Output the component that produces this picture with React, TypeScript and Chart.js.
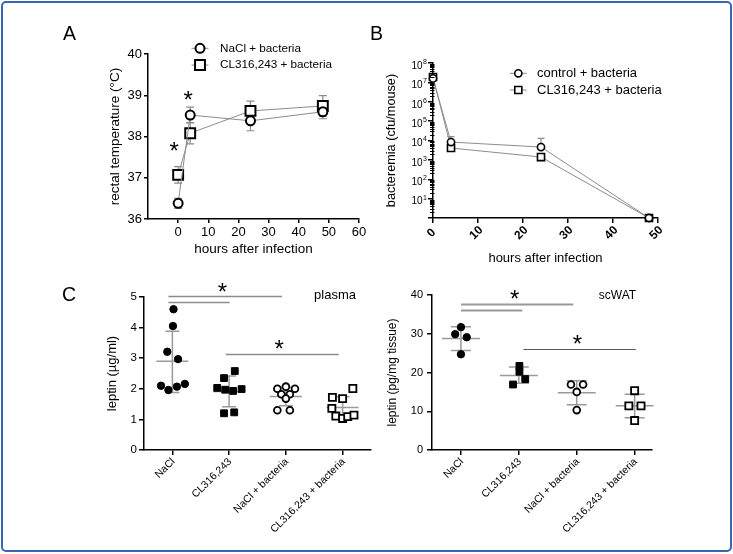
import React, { useEffect, useRef } from "react";
import { Chart, registerables } from "chart.js";

Chart.register(...registerables);

const FONT = "'Liberation Sans', Arial, Helvetica, sans-serif";
const LINE_GRAY = "#8c8c8c";
const BAR_GRAY = "#9a9a9a";

// ---------------- Panel A: rectal temperature ----------------
const hoursA = [0, 4, 24, 48];
const tempNaCl = [36.38, 38.52, 38.38, 38.6];
const tempNaClErr = [0.12, 0.19, 0.24, 0.17];
const tempCL = [37.07, 38.08, 38.62, 38.74];
const tempCLErr = [0.2, 0.26, 0.24, 0.25];
const xTicksA = [0, 10, 20, 30, 40, 50, 60];
const yTicksA = [36, 37, 38, 39, 40];
const starXA = [-1.3, 3.3];
const starYA = [37.79, 39.03];

// ---------------- Panel B: bacteremia ----------------
const hoursB = [0, 4, 24, 48];
const cfuControl = [1.6e7, 8.3e3, 4.6e3, 1];
const cfuControlUpper = [1.9e7, 1.6e4, 1.3e4, 1];
const cfuCL = [1.9e7, 4.1e3, 1.4e3, 1];
const cfuCLUpper = [2.1e7, 5.0e3, 1.7e3, 1];
const xTicksB = [0, 10, 20, 30, 40, 50];
const yTicksB = [1, 1e1, 1e2, 1e3, 1e4, 1e5, 1e6, 1e7, 1e8];

// ---------------- Panel C: leptin ----------------
const groupsC = ["NaCl", "CL316,243", "NaCl + bacteria", "CL316,243 + bacteria"];

const plasmaNaCl = [4.6, 4.05, 3.21, 2.97, 2.1, 1.96, 2.07, 2.16];
const plasmaNaClJit = [0.02, 0.01, -0.09, 0.1, -0.2, -0.07, 0.08, 0.22];
const plasmaCL = [2.58, 2.35, 2.03, 1.97, 1.93, 1.99, 1.2, 1.23];
const plasmaCLJit = [0.1, -0.09, -0.21, -0.07, 0.07, 0.22, -0.09, 0.09];
const plasmaNaClBac = [2.0, 2.07, 2.0, 1.82, 1.82, 1.68, 1.3, 1.3];
const plasmaNaClBacJit = [-0.15, 0, 0.16, -0.08, 0.07, 0, -0.15, 0.07];
const plasmaCLBac = [2.01, 1.72, 1.68, 1.36, 1.11, 1.03, 1.09, 1.14];
const plasmaCLBacJit = [0.18, -0.18, 0, -0.19, -0.12, 0, 0.09, 0.2];
const plasmaMean = [2.9, 1.91, 1.75, 1.39];
const plasmaSdLo = [1.88, 1.41, 1.45, 1.04];
const plasmaSdHi = [3.88, 2.42, 2.05, 1.74];
const plasmaSigX1 = [-0.07, -0.07, 0.94];
const plasmaSigX2 = [1.93, 1.01, 2.93];
const plasmaSigY = [5.02, 4.84, 3.13];
const plasmaStarX = [0.88, 1.88];
const plasmaStarY = [5.36, 3.49];
const yTicksPlasma = [0, 1, 2, 3, 4, 5];

const watNaCl = [29.9, 31.7, 29.1, 24.7];
const watNaClJit = [-0.1, 0, 0.1, 0];
const watCL = [21.7, 20.2, 16.9, 18.3];
const watCLJit = [0.01, 0.01, -0.1, 0.11];
const watNaClBac = [16.9, 16.9, 15.0, 10.3];
const watNaClBacJit = [-0.1, 0.11, 0, 0];
const watCLBac = [15.3, 11.4, 11.4, 7.6];
const watCLBacJit = [0, -0.1, 0.11, 0];
const watMean = [28.8, 19.2, 14.8, 11.4];
const watSdLo = [25.7, 17.2, 11.7, 8.3];
const watSdHi = [31.8, 21.4, 17.9, 14.4];
const watSigX1 = [0, 0, 1.08];
const watSigX2 = [1.94, 1.06, 3.02];
const watSigY = [37.7, 36.1, 26.0];
const watStarX = [0.93, 2.01];
const watStarY = [40.5, 28.8];
const yTicksWat = [0, 10, 20, 30, 40];
const xTicksC = [0, 1, 2, 3];

function axisOpts(o: any) {
  return {
    type: o.type || "linear",
    position: o.horizontal ? "bottom" : "left",
    min: o.min,
    max: o.max,
    afterBuildTicks: (s: any) => {
      s.ticks = o.ticks.map((v: number) => ({ value: v }));
    },
    afterFit: (s: any) => {
      if (o.horizontal) s.height = o.size;
      else s.width = o.size;
    },
    ticks: {
      display: o.showLabels !== false,
      autoSkip: false,
      maxRotation: 0,
      minRotation: 0,
      padding: o.pad,
      color: "#000",
      font: { family: FONT, size: o.fontSize },
      callback: o.labelCb || ((v: any) => String(v)),
    },
    grid: {
      display: true,
      drawOnChartArea: false,
      drawTicks: true,
      tickLength: o.tickLen,
      tickColor: "#000",
      tickWidth: 1.5,
      color: "#000",
      lineWidth: 1.5,
    },
    border: { display: true, color: "#000", width: 1.5 },
    title: o.title
      ? { display: true, text: o.title, color: "#000", padding: 0, font: { family: FONT, size: o.titleSize } }
      : { display: false },
  };
}

function drawMarker(ctx: CanvasRenderingContext2D, style: string, x: number, y: number, r: number, fill: string, lw: number) {
  ctx.beginPath();
  if (style === "circle") ctx.arc(x, y, r, 0, Math.PI * 2);
  else {
    const s = r * Math.SQRT1_2;
    ctx.rect(x - s, y - s, 2 * s, 2 * s);
  }
  ctx.fillStyle = fill;
  ctx.fill();
  ctx.lineWidth = lw;
  ctx.strokeStyle = "#000";
  ctx.stroke();
}

function drawLegend(chart: any, x: number, y0: number, dy: number, textX: number, fontSize: number) {
  const ctx = chart.ctx as CanvasRenderingContext2D;
  chart.data.datasets.forEach((ds: any, i: number) => {
    const y = y0 + i * dy;
    ctx.save();
    ctx.strokeStyle = LINE_GRAY;
    ctx.lineWidth = 1;
    ctx.beginPath();
    ctx.moveTo(x - 8.5, y);
    ctx.lineTo(x + 8.5, y);
    ctx.stroke();
    drawMarker(ctx, ds.pointStyle, x, y, ds.pointRadius, ds.pointBackgroundColor, ds.pointBorderWidth);
    ctx.fillStyle = "#000";
    ctx.font = `${fontSize}px ${FONT}`;
    ctx.textAlign = "left";
    ctx.textBaseline = "middle";
    ctx.fillText(ds.label, textX, y);
    ctx.restore();
  });
}

function drawStars(chart: any, xs: number[], ys: number[], size: number) {
  const ctx = chart.ctx as CanvasRenderingContext2D;
  const sx = chart.scales.x;
  const sy = chart.scales.y;
  ctx.save();
  ctx.fillStyle = "#000";
  ctx.font = `${size}px ${FONT}`;
  ctx.textAlign = "center";
  ctx.textBaseline = "alphabetic";
  xs.forEach((x, i) => {
    ctx.fillText("*", sx.getPixelForValue(x), sy.getPixelForValue(ys[i]) + size * 0.585);
  });
  ctx.restore();
}

function errBar(ctx: CanvasRenderingContext2D, x: number, yTop: number, yBot: number, cap: number, top = true, bot = true) {
  ctx.beginPath();
  ctx.moveTo(x, yTop);
  ctx.lineTo(x, yBot);
  if (top) {
    ctx.moveTo(x - cap, yTop);
    ctx.lineTo(x + cap, yTop);
  }
  if (bot) {
    ctx.moveTo(x - cap, yBot);
    ctx.lineTo(x + cap, yBot);
  }
  ctx.stroke();
}

const baseOptions = (padding: any, scales: any) => ({
  animation: false,
  responsive: false,
  events: [],
  layout: { padding },
  plugins: { legend: { display: false }, tooltip: { enabled: false } },
  scales,
});

function configA(): any {
  return {
    type: "scatter",
    data: {
      datasets: [
        {
          label: "NaCl + bacteria",
          data: hoursA.map((h, i) => ({ x: h, y: tempNaCl[i] })),
          showLine: true, borderColor: LINE_GRAY, borderWidth: 1,
          pointStyle: "circle", pointRadius: 4.5, pointBorderWidth: 2,
          pointBorderColor: "#000", pointBackgroundColor: "#fff",
          errs: tempNaClErr, clip: false,
        },
        {
          label: "CL316,243 + bacteria",
          data: hoursA.map((h, i) => ({ x: h, y: tempCL[i] })),
          showLine: true, borderColor: LINE_GRAY, borderWidth: 1,
          pointStyle: "rect", pointRadius: 7, pointBorderWidth: 2,
          pointBorderColor: "#000", pointBackgroundColor: "#fff",
          errs: tempCLErr, clip: false,
        },
      ],
    },
    options: baseOptions(
      { left: 106.9, top: 54, right: 374, bottom: 296.9 },
      {
        x: axisOpts({ horizontal: true, min: -10, max: 60, ticks: xTicksA, tickLen: 4, pad: 2, fontSize: 13, title: "hours after infection", titleSize: 13.5, size: 38.1 }),
        y: axisOpts({ min: 36, max: 40, ticks: yTicksA, tickLen: 4, pad: 2, fontSize: 13, title: "rectal temperature (\u00b0C)", titleSize: 13.5, size: 41.1 }),
      }
    ),
    plugins: [
      {
        id: "annA",
        beforeDatasetsDraw(chart: any) {
          const ctx = chart.ctx;
          const sx = chart.scales.x, sy = chart.scales.y;
          ctx.save();
          ctx.strokeStyle = LINE_GRAY;
          ctx.lineWidth = 1.2;
          chart.data.datasets.forEach((ds: any) => {
            ds.data.forEach((p: any, i: number) => {
              errBar(ctx, sx.getPixelForValue(p.x), sy.getPixelForValue(p.y + ds.errs[i]), sy.getPixelForValue(p.y - ds.errs[i]), 4);
            });
          });
          ctx.restore();
        },
        afterDraw(chart: any) {
          drawStars(chart, starXA, starYA, 24);
          drawLegend(chart, 200, 48.3, 16.7, 220, 11.7);
        },
      },
    ],
  };
}

function configB(): any {
  return {
    type: "scatter",
    data: {
      datasets: [
        {
          label: "control + bacteria",
          data: hoursB.map((h, i) => ({ x: h, y: cfuControl[i] })),
          showLine: true, borderColor: LINE_GRAY, borderWidth: 1,
          pointStyle: "circle", pointRadius: 3.6, pointBorderWidth: 1.6,
          pointBorderColor: "#000", pointBackgroundColor: "#fff",
          upper: cfuControlUpper, clip: false,
        },
        {
          label: "CL316,243 + bacteria",
          data: hoursB.map((h, i) => ({ x: h, y: cfuCL[i] })),
          showLine: true, borderColor: LINE_GRAY, borderWidth: 1,
          pointStyle: "rect", pointRadius: 5, pointBorderWidth: 1.6,
          pointBorderColor: "#000", pointBackgroundColor: "#fff",
          upper: cfuCLUpper, clip: false,
        },
      ],
    },
    options: baseOptions(
      { left: 383.4, top: 63, right: 75, bottom: 288.2 },
      {
        x: axisOpts({ horizontal: true, min: 0, max: 50, ticks: xTicksB, tickLen: 5, pad: 2, fontSize: 12, showLabels: false, title: "hours after infection", titleSize: 13, size: 47.8 }),
        y: axisOpts({
          type: "logarithmic", min: 1, max: 1e8, ticks: yTicksB, tickLen: 5, pad: 1, fontSize: 10,
          showLabels: false, title: "bacteremia (cfu/mouse)", titleSize: 12.7, size: 49.6,
        }),
      }
    ),
    plugins: [
      {
        id: "annB",
        beforeDatasetsDraw(chart: any) {
          const ctx = chart.ctx;
          const sx = chart.scales.x, sy = chart.scales.y;
          ctx.save();
          ctx.strokeStyle = LINE_GRAY;
          ctx.lineWidth = 1.2;
          chart.data.datasets.forEach((ds: any) => {
            ds.data.forEach((p: any, i: number) => {
              if (ds.upper[i] > p.y) {
                errBar(ctx, sx.getPixelForValue(p.x), sy.getPixelForValue(ds.upper[i]), sy.getPixelForValue(p.y), 3.5, true, false);
              }
            });
          });
          ctx.restore();
        },
        afterDraw(chart: any) {
          const ctx = chart.ctx as CanvasRenderingContext2D;
          const sx = chart.scales.x, sy = chart.scales.y;
          const L = chart.chartArea.left;
          ctx.save();
          // minor log ticks
          ctx.strokeStyle = "#000";
          ctx.lineWidth = 1;
          for (let e = 0; e < 8; e++) {
            for (let m = 2; m <= 9; m++) {
              const y = Math.round(sy.getPixelForValue(m * Math.pow(10, e))) + 0.5;
              ctx.beginPath();
              ctx.moveTo(L - 3, y);
              ctx.lineTo(L + 1.5, y);
              ctx.stroke();
            }
          }
          // y tick labels: 10 with superscript exponent
          ctx.fillStyle = "#000";
          ctx.textBaseline = "middle";
          ctx.textAlign = "left";
          yTicksB.forEach((v) => {
            const e = Math.round(Math.log10(v));
            if (e === 0) return;
            const y = sy.getPixelForValue(v);
            ctx.font = `10px ${FONT}`;
            const wBase = ctx.measureText("10").width;
            ctx.font = `7px ${FONT}`;
            const wExp = ctx.measureText(String(e)).width;
            const right = L - 6;
            const x0 = right - wBase - wExp - 0.5;
            ctx.font = `10px ${FONT}`;
            ctx.fillText("10", x0, y + 3);
            ctx.font = `7px ${FONT}`;
            ctx.fillText(String(e), x0 + wBase + 0.5, y - 1);
          });
          // rotated x tick labels
          ctx.font = `bold 12px ${FONT}`;
          ctx.textAlign = "center";
          ctx.textBaseline = "middle";
          xTicksB.forEach((v) => {
            ctx.save();
            ctx.translate(sx.getPixelForValue(v) - 1.5, chart.chartArea.bottom + 15);
            ctx.rotate(-Math.PI / 4);
            ctx.fillText(String(v), 0, 0);
            ctx.restore();
          });
          ctx.restore();
          drawLegend(chart, 518.3, 73.3, 16.7, 537, 13);
        },
      },
    ],
  };
}

const MARKERS = [
  { ps: "circle", fill: "#000", r: 3.7, bw: 1 },
  { ps: "rect", fill: "#000", r: 4.8, bw: 1 },
  { ps: "circle", fill: "#fff", r: 3.4, bw: 1.8 },
  { ps: "rect", fill: "#fff", r: 5, bw: 1.8 },
];

function configC(p: any): any {
  return {
    type: "scatter",
    data: {
      datasets: p.values.map((vals: number[], g: number) => ({
        label: groupsC[g],
        data: vals.map((v, j) => ({ x: g + p.jitter[g][j], y: v })),
        pointStyle: MARKERS[g].ps,
        pointRadius: MARKERS[g].r,
        pointBorderWidth: MARKERS[g].bw,
        pointBorderColor: "#000",
        pointBackgroundColor: MARKERS[g].fill,
        showLine: false,
        clip: false,
      })),
    },
    options: baseOptions(p.padding, {
      x: axisOpts({ horizontal: true, min: -0.5, max: p.xMax, ticks: xTicksC, tickLen: 5, pad: 2, fontSize: 10.5, showLabels: false, size: 60 }),
      y: axisOpts({ min: 0, max: p.yMax, ticks: p.yTicks, tickLen: 5, pad: p.yPad, fontSize: p.yFont, title: p.yTitle, titleSize: p.yTitleSize, size: p.ySize }),
    }),
    plugins: [
      {
        id: "annC",
        beforeDatasetsDraw(chart: any) {
          const ctx = chart.ctx as CanvasRenderingContext2D;
          const sx = chart.scales.x, sy = chart.scales.y;
          ctx.save();
          ctx.strokeStyle = BAR_GRAY;
          ctx.lineWidth = 1.5;
          p.mean.forEach((m: number, g: number) => {
            const cx = sx.getPixelForValue(g);
            const ym = sy.getPixelForValue(m);
            ctx.beginPath();
            ctx.moveTo(cx - p.meanHalf, ym);
            ctx.lineTo(cx + p.meanHalf, ym);
            ctx.stroke();
            errBar(ctx, cx, sy.getPixelForValue(p.sdHi[g]), sy.getPixelForValue(p.sdLo[g]), p.capHalf);
          });
          ctx.restore();
        },
        afterDraw(chart: any) {
          const ctx = chart.ctx as CanvasRenderingContext2D;
          const sx = chart.scales.x, sy = chart.scales.y;
          ctx.save();
          p.sigY.forEach((y: number, i: number) => {
            ctx.strokeStyle = p.sigColors[i];
            ctx.lineWidth = p.sigWidths[i];
            const py = Math.round(sy.getPixelForValue(y)) + 0.5;
            ctx.beginPath();
            ctx.moveTo(sx.getPixelForValue(p.sigX1[i]), py);
            ctx.lineTo(sx.getPixelForValue(p.sigX2[i]), py);
            ctx.stroke();
          });
          // category labels
          ctx.fillStyle = "#000";
          ctx.font = `10.5px ${FONT}`;
          ctx.textAlign = "right";
          ctx.textBaseline = "middle";
          xTicksC.forEach((v, i) => {
            ctx.save();
            ctx.translate(sx.getPixelForValue(v) + 1, chart.chartArea.bottom + 10);
            ctx.rotate(-Math.PI / 4);
            ctx.fillText(groupsC[i], 0, 0);
            ctx.restore();
          });
          // corner label
          ctx.font = `${p.cornerSize}px ${FONT}`;
          ctx.textAlign = "center";
          ctx.fillText(p.corner, p.cornerX, p.cornerY);
          ctx.restore();
          drawStars(chart, p.starX, p.starY, 24);
        },
      },
    ],
  };
}

export default function App() {
  const refA = useRef<HTMLCanvasElement>(null);
  const refB = useRef<HTMLCanvasElement>(null);
  const refC1 = useRef<HTMLCanvasElement>(null);
  const refC2 = useRef<HTMLCanvasElement>(null);

  useEffect(() => {
    const charts = [
      new Chart(refA.current as HTMLCanvasElement, configA()),
      new Chart(refB.current as HTMLCanvasElement, configB()),
      new Chart(
        refC1.current as HTMLCanvasElement,
        configC({
          values: [plasmaNaCl, plasmaCL, plasmaNaClBac, plasmaCLBac],
          jitter: [plasmaNaClJit, plasmaCLJit, plasmaNaClBacJit, plasmaCLBacJit],
          mean: plasmaMean, sdLo: plasmaSdLo, sdHi: plasmaSdHi,
          sigX1: plasmaSigX1, sigX2: plasmaSigX2, sigY: plasmaSigY,
          sigColors: [LINE_GRAY, LINE_GRAY, LINE_GRAY], sigWidths: [1.5, 1.5, 1.5],
          starX: plasmaStarX, starY: plasmaStarY,
          yMax: 5, yTicks: yTicksPlasma, yPad: 2, yFont: 11.5,
          yTitle: "leptin (\u00b5g/ml)", yTitleSize: 13, ySize: 39.8,
          xMax: 3.5,
          padding: { left: 104.2, top: 297, right: 362, bottom: 44 },
          meanHalf: 16, capHalf: 7,
          corner: "plasma", cornerSize: 13, cornerX: 335, cornerY: 295,
        })
      ),
      new Chart(
        refC2.current as HTMLCanvasElement,
        configC({
          values: [watNaCl, watCL, watNaClBac, watCLBac],
          jitter: [watNaClJit, watCLJit, watNaClBacJit, watCLBacJit],
          mean: watMean, sdLo: watSdLo, sdHi: watSdHi,
          sigX1: watSigX1, sigX2: watSigX2, sigY: watSigY,
          sigColors: ["#999", "#999", "#555"], sigWidths: [2, 2, 1.2],
          starX: watStarX, starY: watStarY,
          yMax: 40, yTicks: yTicksWat, yPad: 4, yFont: 11,
          yTitle: "leptin (pg/mg tissue)", yTitleSize: 12, ySize: 46.2,
          xMax: 3.3,
          padding: { left: 385.8, top: 295, right: 81, bottom: 44 },
          meanHalf: 19, capHalf: 10,
          corner: "scWAT", cornerSize: 12, cornerX: 617.5, cornerY: 296,
        })
      ),
    ];
    return () => charts.forEach((c) => c.destroy());
  }, []);

  const canvasStyle: React.CSSProperties = { position: "absolute", left: 0, top: 0 };
  const letter = (t: string, left: number, top: number): React.ReactNode => (
    <div
      style={{
        position: "absolute", left, top, fontFamily: FONT, fontSize: 19.5,
        lineHeight: "19.5px", color: "#000",
      }}
    >
      {t}
    </div>
  );

  return (
    <div
      style={{
        position: "fixed", left: 0, top: 0, width: 733, height: 554,
        background: "#fff", overflow: "hidden",
      }}
    >
      <canvas ref={refA} width={733} height={554} style={canvasStyle} />
      <canvas ref={refB} width={733} height={554} style={canvasStyle} />
      <canvas ref={refC1} width={733} height={554} style={canvasStyle} />
      <canvas ref={refC2} width={733} height={554} style={canvasStyle} />
      {letter("A", 63, 24.2)}
      {letter("B", 370, 24.2)}
      {letter("C", 62, 284.5)}
      <div
        style={{
          position: "absolute", left: 1, top: 1, width: 731, height: 551,
          boxSizing: "border-box", border: "2px solid #3a65b0", borderRadius: 5,
          pointerEvents: "none",
        }}
      />
    </div>
  );
}
